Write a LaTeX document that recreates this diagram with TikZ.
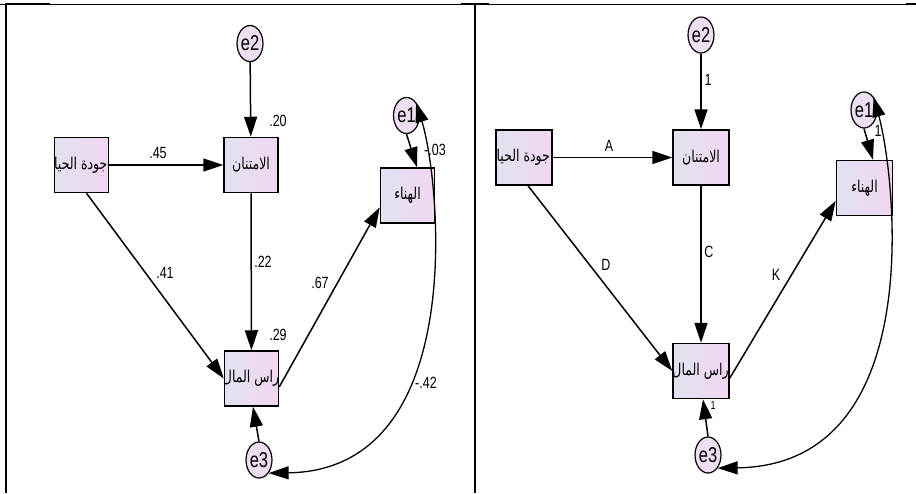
\documentclass[tikz,border=0pt]{standalone}
\usepackage{fontspec}
\setmainfont{Liberation Sans}
\newfontfamily\arabicfont[Script=Arabic]{DejaVu Sans}
\TeXXeTstate=1
\usepackage{xcolor}
\usepackage{tikz}
\usetikzlibrary{shapes,arrows.meta,positioning}

\definecolor{boxleft}{RGB}{224,226,240}
\definecolor{boxright}{RGB}{242,214,242}
\definecolor{errfill}{RGB}{238,222,242}

\newcommand{\artext}[1]{{\arabicfont\fontsize{12.5}{12.5}\selectfont\scalebox{1}[1.3]{\beginR #1\endR}}}
\newcommand{\coef}[1]{\scalebox{1}[1.3]{\fontsize{12.5}{12.5}\selectfont #1}}

\begin{document}
\begin{tikzpicture}[x=1pt,y=-1pt,
        varbox/.style={draw, line width=1.5pt, rectangle, minimum width=54pt, minimum height=55pt,
            inner sep=0pt, left color=boxleft, right color=boxright},
        vartext/.style={path picture={\node[inner sep=0pt] at ([xshift=#1]path picture bounding box.center) {\artext{\vlabel}};}},
        errnode/.style={draw, line width=1.2pt, ellipse, minimum width=25pt, minimum height=36pt,
            inner sep=0pt, fill=errfill, font=\fontsize{16.5}{16.5}\selectfont},
        regarrow/.style={line width=1.5pt, -{Triangle[length=20pt,width=13pt]}},
        covarrow/.style={line width=1.3pt, {Triangle[length=20pt,width=13pt]}-{Triangle[length=20pt,width=13pt]}},
        coeflabel/.style={inner sep=0pt}]

    \useasboundingbox (0,0) rectangle (916,493);

    % table frame
    \draw[line width=1pt] (0,4) -- (916,4);
    \draw[line width=2pt] (5,4) -- (50,4);
    \draw[line width=2pt] (461,4) -- (489,4);
    \draw[line width=2pt] (906,4) -- (916,4);
    \draw[line width=2pt] (6,3) -- (6,493);
    \draw[line width=2pt] (475,3) -- (475,493);

    % standardized model
    \def\vlabel{جودة الحياة}
    \node[varbox, vartext=-4pt] (jawL) at (81.5,165) {};
    \def\vlabel{الامتنان}
    \node[varbox, vartext=0pt] (imtL) at (251,165) {};
    \def\vlabel{الهناء}
    \node[varbox, vartext=0pt] (hanL) at (407.5,195.5) {};
    \def\vlabel{راس المال}
    \node[varbox, vartext=-0.5pt] (rasL) at (251.5,378.5) {};
    \node[errnode] (e2L) at (250,43.5) {\scalebox{1}[1.3]{e2}};
    \node[errnode] (e1L) at (406.5,115.5) {\scalebox{1}[1.3]{e1}};
    \node[errnode] (e3L) at (259,460) {\scalebox{1}[1.3]{e3}};

    \draw[regarrow] (e2L) -- (imtL);
    \draw[regarrow] (jawL) -- (imtL);
    \draw[regarrow] ([xshift=5pt]jawL.south) -- (rasL.west);
    \draw[regarrow] (imtL) -- (rasL);
    \draw[regarrow] (rasL.-17) -- (hanL.-157);
    \draw[regarrow] (e1L.south) -- ([xshift=9.5pt]hanL.north);
    \draw[regarrow] (e3L.north) -- ([xshift=1.5pt]rasL.south);
    \draw[covarrow] (e1L.north east) .. controls (440,180) and (470,470) .. (e3L.south east);

    \node[coeflabel] (c1L) at (278,121) {\coef{.20}};
    \node[coeflabel] (c2L) at (158,153) {\coef{.45}};
    \node[coeflabel] (c3L) at (435,150) {\coef{-.03}};
    \node[coeflabel] (c4L) at (165,273) {\coef{.41}};
    \node[coeflabel] (c5L) at (263,262) {\coef{.22}};
    \node[coeflabel] (c6L) at (320,283) {\coef{.67}};
    \node[coeflabel] (c7L) at (278,335) {\coef{.29}};
    \node[coeflabel] (c8L) at (426,383) {\coef{-.42}};

    % path labels model
    \def\vlabel{جودة الحياة}
    \node[varbox, minimum width=56pt, vartext=-4pt] (jawR) at (524,157.5) {};
    \def\vlabel{الامتنان}
    \node[varbox, minimum width=56pt, vartext=0pt] (imtR) at (701,157.5) {};
    \def\vlabel{الهناء}
    \node[varbox, minimum width=56pt, vartext=0pt] (hanR) at (864.5,188) {};
    \def\vlabel{راس المال}
    \node[varbox, minimum width=56pt, vartext=-0.5pt] (rasR) at (701,371) {};
    \node[errnode] (e2R) at (701,35) {\scalebox{1}[1.3]{e2}};
    \node[errnode] (e1R) at (864,110) {\scalebox{1}[1.3]{e1}};
    \node[errnode] (e3R) at (708,455) {\scalebox{1}[1.3]{e3}};

    \draw[regarrow] (e2R) -- (imtR);
    \draw[regarrow] (jawR) -- (imtR);
    \draw[regarrow] ([xshift=4pt]jawR.south) -- (rasR.west);
    \draw[regarrow] (imtR) -- (rasR);
    \draw[regarrow] (rasR.-14) -- (hanR.-156);
    \draw[regarrow] (e1R.south) -- ([xshift=8.5pt]hanR.north);
    \draw[regarrow] (e3R.north) -- ([xshift=2pt]rasR.south);
    \draw[covarrow] (e1R.north east) .. controls (895,175) and (930,465) .. (e3R.south east);

    \node[coeflabel] (c1R) at (708,80) {\coef{1}};
    \node[coeflabel] (c2R) at (609,146) {\coef{A}};
    \node[coeflabel] (c3R) at (878,131) {\coef{1}};
    \node[coeflabel] (c4R) at (606,265) {\coef{D}};
    \node[coeflabel] (c5R) at (709,252) {\coef{C}};
    \node[coeflabel] (c6R) at (776,275) {\coef{K}};
    \node[coeflabel] (c7R) at (713,405) {\scalebox{1}[1.3]{\fontsize{9}{9}\selectfont 1}};
\end{tikzpicture}
\end{document}
